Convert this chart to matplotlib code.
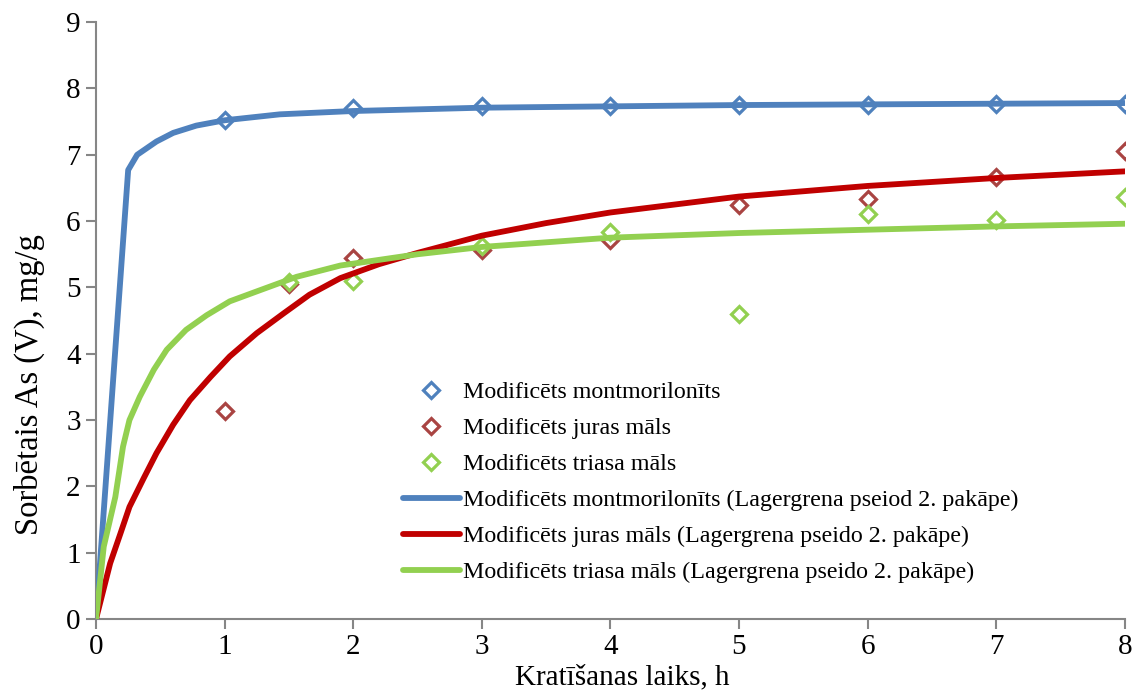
import matplotlib
matplotlib.use("Agg")
import matplotlib.pyplot as plt

plt.rcParams["font.family"] = ["Liberation Serif", "DejaVu Serif"]

# measured points
t_mont = [1, 2, 3, 4, 5, 6, 7, 8]
q_mont = [7.53, 7.70, 7.73, 7.74, 7.75, 7.75, 7.76, 7.77]
t_jura = [1, 1.5, 2, 3, 4, 5, 6, 7, 8]
q_jura = [3.14, 5.05, 5.45, 5.56, 5.71, 6.24, 6.33, 6.67, 7.05]
t_trias = [1.5, 2, 3, 4, 5, 6, 7, 8]
q_trias = [5.08, 5.09, 5.62, 5.84, 4.60, 6.10, 6.01, 6.37]

# fitted curves
fit_t_mont = [0, 0.25, 0.32, 0.47, 0.6, 0.78, 1, 1.43, 2, 3, 4, 5, 6, 7, 8]
fit_q_mont = [0, 6.77, 7.0, 7.2, 7.33, 7.44, 7.52, 7.61, 7.66, 7.71, 7.73, 7.75, 7.76, 7.77, 7.78]
fit_t_jura = [0, 0.11, 0.19, 0.26, 0.37, 0.47, 0.6, 0.73, 0.89, 1.04, 1.25, 1.46, 1.66, 1.9,
              2.2, 2.5, 3, 3.5, 4, 5, 6, 7, 8]
fit_q_jura = [0, 0.84, 1.29, 1.69, 2.12, 2.5, 2.93, 3.3, 3.65, 3.96, 4.31, 4.61, 4.89, 5.14,
              5.35, 5.52, 5.78, 5.97, 6.13, 6.37, 6.53, 6.65, 6.75]
fit_t_trias = [0, 0.06, 0.15, 0.21, 0.26, 0.34, 0.45, 0.55, 0.7, 0.86, 1.04, 1.25, 1.56, 1.9,
               2.5, 3, 4, 5, 6, 7, 8]
fit_q_trias = [0, 1.09, 1.84, 2.6, 3.0, 3.35, 3.76, 4.06, 4.36, 4.58, 4.79, 4.94, 5.16, 5.33,
               5.5, 5.61, 5.75, 5.82, 5.87, 5.92, 5.96]

labels = ["Modificēts montmorilonīts", "Modificēts juras māls", "Modificēts triasa māls",
          "Modificēts montmorilonīts (Lagergrena pseiod 2. pakāpe)",
          "Modificēts juras māls (Lagergrena pseido 2. pakāpe)",
          "Modificēts triasa māls (Lagergrena pseido 2. pakāpe)"]

fig = plt.figure(figsize=(11.35, 6.92), dpi=100)
ax = fig.add_axes([0.0846, 0.1055, 0.9064, 0.8625])

mk = dict(marker="D", ls="none", ms=8, mew=2.3, mfc="white")
ax.plot(t_mont, q_mont, color="#4F81BD", label=labels[0], zorder=2, **mk)
ax.plot(t_jura, q_jura, color="#A94442", label=labels[1], zorder=2, **mk)
ax.plot(t_trias, q_trias, color="#92D050", label=labels[2], zorder=2, **mk)

ln = dict(lw=4.2, zorder=3, solid_capstyle="round", solid_joinstyle="round")
ax.plot(fit_t_mont, fit_q_mont, color="#4F81BD", label=labels[3], **ln)
ax.plot(fit_t_jura, fit_q_jura, color="#C00000", label=labels[4], **ln)
ax.plot(fit_t_trias, fit_q_trias, color="#92D050", label=labels[5], **ln)

ax.set_xlim(0, 8)
ax.set_ylim(0, 9)
ax.set_xticks(range(0, 9))
ax.set_yticks(range(0, 10))
for s in ["top", "right"]:
    ax.spines[s].set_visible(False)
for s in ["left", "bottom"]:
    ax.spines[s].set_color("#868686")
    ax.spines[s].set_linewidth(1.5)
ax.tick_params(direction="out", length=7, width=1.5, color="#868686",
               labelsize=21, pad=4)
ax.set_xlabel("Kratīšanas laiks, h", fontsize=21)
ax.xaxis.set_label_coords(0.512, -0.076)
ax.set_ylabel("Sorbētais As (V), mg/g", fontsize=23.5)
ax.yaxis.set_label_coords(-0.05, 0.392)

ax.legend(loc="upper left", bbox_to_anchor=(0.298, 0.398), frameon=False,
          fontsize=17.3, handlelength=2.4, handletextpad=0.12, labelspacing=0.59,
          borderaxespad=0, borderpad=0)

fig.savefig("out.png", dpi=100)
